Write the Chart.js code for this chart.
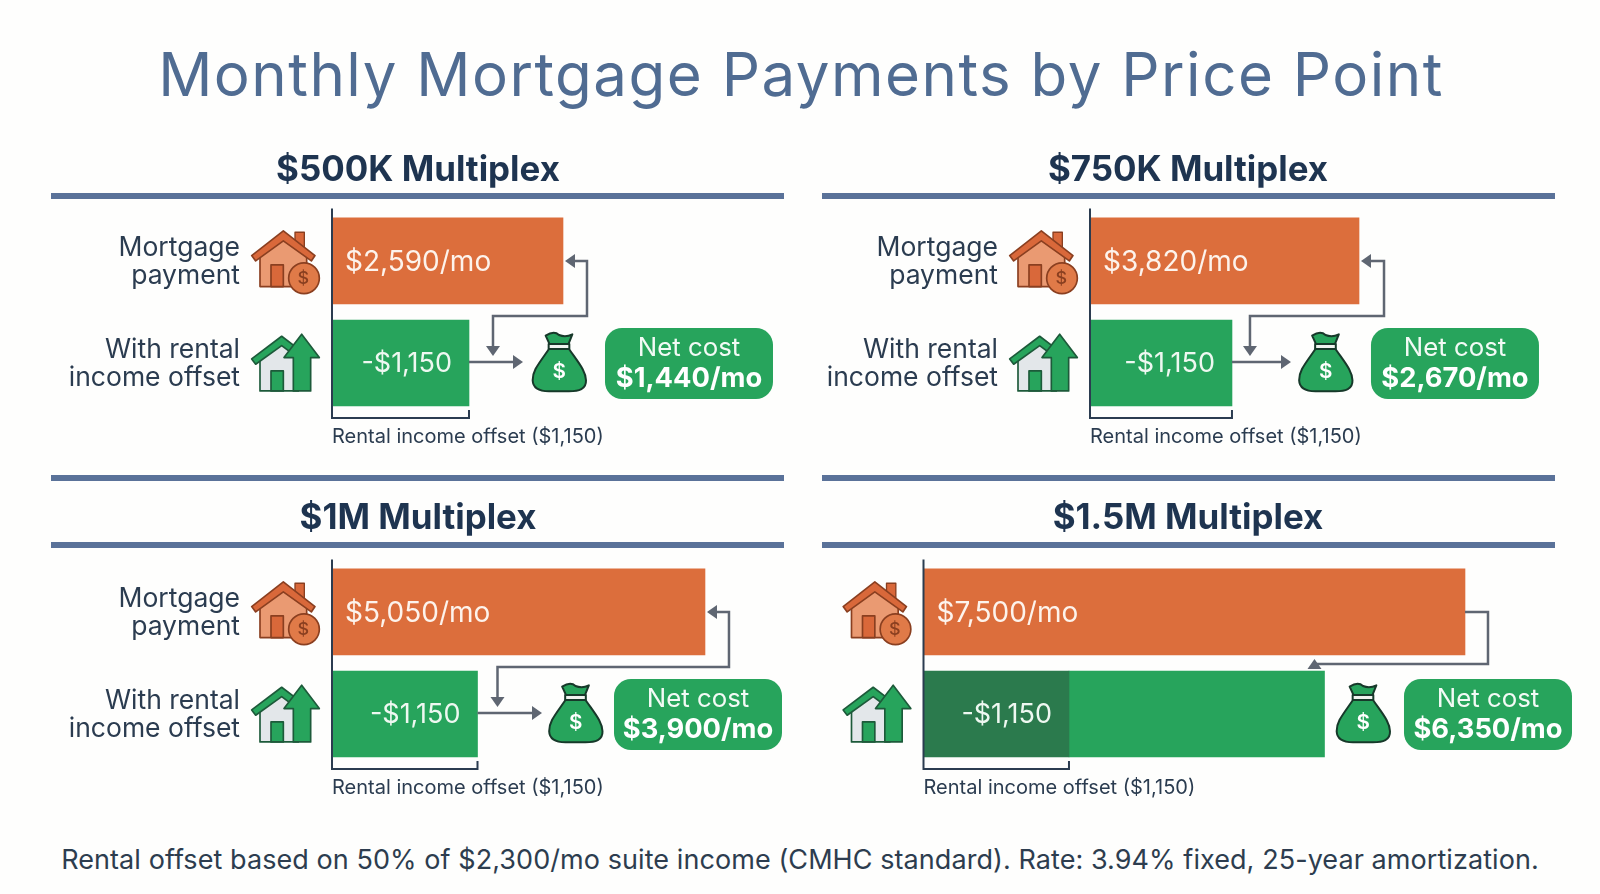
<!DOCTYPE html>
<html>
<head>
<meta charset="utf-8">
<title>Monthly Mortgage Payments by Price Point</title>
<script src="https://cdn.jsdelivr.net/npm/chart.js@4"></script>
<style>
    html, body { margin: 0; padding: 0; background: #fefefd; }
    body { position: relative; width: 1600px; height: 894px; overflow: hidden; font-family: Inter, sans-serif; }
    canvas { position: absolute; }
    #title { position: absolute; left: 0; width: 1602px; top: 36px; text-align: center; font-size: 60px; letter-spacing: 1.5px; line-height: 76px; color: #506c92; white-space: nowrap; }
    #note { position: absolute; left: 0; width: 1600px; top: 841px; text-align: center; font-size: 27px; letter-spacing: 0.07px; line-height: 38px; color: #2d3d4f; white-space: nowrap; }
    .rule { position: absolute; height: 6px; width: 733px; background: #5a7299; }
</style>
</head>
<body>
<div id="title">Monthly Mortgage Payments by Price Point</div>
<div class="rule" style="left:51px;top:193px"></div>
<div class="rule" style="left:822px;top:193px"></div>
<div class="rule" style="left:51px;top:475px"></div>
<div class="rule" style="left:822px;top:475px"></div>
<div class="rule" style="left:51px;top:542px"></div>
<div class="rule" style="left:822px;top:542px"></div>
<canvas id="panel0" width="836" height="304" style="left:0;top:150px"></canvas>
<canvas id="panel1" width="824" height="304" style="left:776px;top:150px"></canvas>
<canvas id="panel2" width="836" height="307" style="left:0;top:498px"></canvas>
<canvas id="panel3" width="824" height="307" style="left:776px;top:498px"></canvas>
<div id="note">Rental offset based on 50% of $2,300/mo suite income (CMHC standard). Rate: 3.94% fixed, 25-year amortization.</div>

<script>
const panelTitles = ['$500K Multiplex', '$750K Multiplex', '$1M Multiplex', '$1.5M Multiplex'];
const rowLabels = [['Mortgage', 'payment'], ['With rental', 'income offset']];
const mortgageValues = [2590, 3820, 5050, 7500];
const offsetValues = [1150, 1150, 1150, 1150];
const netCosts = [1440, 2670, 3900, 6350];
// the green bars in the picture are not to scale with their labels,
// so these are the lengths
const offsetBars = [1536, 2016, 1970, 2015];
const remainderBars = [null, null, null, 3539];
const axisMax = [5651, 7242, 6824, 9370];

const layouts = [
    { axisWidth: 332, titleGap: 18, corner: 24, drop: 24, arrow: 54, bag: 90, pill: 46 },
    { axisWidth: 314, titleGap: 18, corner: 25, drop: 18, arrow: 59, bag: 93.5, pill: 45.5 },
    { axisWidth: 332, titleGap: 21, corner: 24, drop: 20, arrow: 64.5, bag: 98, pill: 38.5 },
    { axisWidth: 147.5, titleGap: 21, corner: 23, drop: -10, arrow: 0, bag: 38.5, pill: 41, noLabels: true }
];

const ORANGE = '#dc6e3c';
const GREEN = '#27a45c';
const DARK_GREEN = '#2b7a4d';
const INK = '#2b3c50';
const ARROW = '#5f6672';
const FONT = 'Inter, sans-serif';

function money(v) {
    return '$' + v.toLocaleString('en-US');
}

function shape(ctx, pts, fill, stroke, width) {
    ctx.beginPath();
    pts.forEach((p, i) => i ? ctx.lineTo(p[0], p[1]) : ctx.moveTo(p[0], p[1]));
    ctx.closePath();
    ctx.fillStyle = fill;
    ctx.fill();
    ctx.strokeStyle = stroke;
    ctx.lineWidth = width;
    ctx.lineJoin = 'round';
    ctx.stroke();
}

// icons are sketched at 3x, with (0,0) at the top left of the icon box
function drawMortgageIcon(ctx, x, y) {
    const line = '#8a3f20';
    ctx.save();
    ctx.translate(x, y);
    ctx.scale(1 / 3, 1 / 3);
    shape(ctx, [[165, 52], [193, 52], [193, 100], [165, 80]], '#d9683a', line, 4);
    shape(ctx, [[60, 115], [130, 70], [200, 115], [200, 215], [60, 215]], '#ea9a72', line, 5);
    shape(ctx, [[93, 150], [130, 150], [130, 215], [93, 215]], '#d9683a', line, 5);
    shape(ctx, [[35, 122], [130, 48], [225, 122], [214, 138], [130, 78], [47, 138]], '#d9683a', line, 5);
    ctx.beginPath();
    ctx.arc(192, 190, 46, 0, Math.PI * 2);
    ctx.fillStyle = '#e07a48';
    ctx.fill();
    ctx.strokeStyle = line;
    ctx.lineWidth = 5;
    ctx.stroke();
    ctx.fillStyle = line;
    ctx.font = '500 54px ' + FONT;
    ctx.textAlign = 'center';
    ctx.textBaseline = 'middle';
    ctx.fillText('$', 190, 192);
    ctx.restore();
}

function drawOffsetIcon(ctx, x, y) {
    const line = '#1d5a3a';
    ctx.save();
    ctx.translate(x, y);
    ctx.scale(1 / 3, 1 / 3);
    shape(ctx, [[60, 430], [125, 385], [175, 420], [175, 528], [60, 528]], '#e3e7ea', line, 5);
    shape(ctx, [[93, 468], [130, 468], [130, 528], [93, 528]], GREEN, line, 5);
    shape(ctx, [[35, 432], [125, 364], [170, 398], [160, 418], [125, 392], [47, 448]], GREEN, line, 5);
    shape(ctx, [[185, 358], [238, 428], [212, 428], [212, 528], [160, 528], [160, 428], [132, 428]], GREEN, line, 5);
    ctx.restore();
}

function drawBag(ctx, x, y) {
    const line = '#17392a';
    ctx.save();
    ctx.translate(x, y);
    ctx.scale(1 / 3, 1 / 3);
    ctx.lineJoin = 'round';
    ctx.lineWidth = 6;
    ctx.strokeStyle = line;
    ctx.fillStyle = GREEN;
    ctx.beginPath();
    ctx.moveTo(-30, -36);
    ctx.bezierCurveTo(-62, 10, -80, 30, -79, 58);
    ctx.bezierCurveTo(-78, 85, -55, 91, -30, 91);
    ctx.lineTo(30, 91);
    ctx.bezierCurveTo(60, 91, 82, 85, 81, 58);
    ctx.bezierCurveTo(80, 30, 62, 10, 30, -36);
    ctx.closePath();
    ctx.fill();
    ctx.stroke();
    ctx.beginPath();
    ctx.moveTo(-28, -50);
    ctx.lineTo(-40, -76);
    ctx.quadraticCurveTo(-15, -92, 0, -78);
    ctx.quadraticCurveTo(20, -70, 40, -80);
    ctx.lineTo(28, -50);
    ctx.closePath();
    ctx.fill();
    ctx.stroke();
    ctx.fillStyle = '#f0f4f0';
    ctx.fillRect(-31, -51, 62, 15);
    ctx.strokeRect(-31, -51, 62, 15);
    ctx.fillStyle = '#ffffff';
    ctx.font = '600 62px ' + FONT;
    ctx.textAlign = 'center';
    ctx.textBaseline = 'middle';
    ctx.fillText('$', 1, 32);
    ctx.restore();
}

function arrowHead(ctx, x, y, dir) {
    const s = 10;
    const w = 7;
    ctx.beginPath();
    ctx.moveTo(x, y);
    if (dir === 'left') { ctx.lineTo(x + s, y - w); ctx.lineTo(x + s, y + w); }
    if (dir === 'right') { ctx.lineTo(x - s, y - w); ctx.lineTo(x - s, y + w); }
    if (dir === 'down') { ctx.lineTo(x - w, y - s); ctx.lineTo(x + w, y - s); }
    if (dir === 'up') { ctx.lineTo(x - w, y + s); ctx.lineTo(x + w, y + s); }
    ctx.closePath();
    ctx.fillStyle = ARROW;
    ctx.fill();
}

function path(ctx, pts) {
    ctx.beginPath();
    pts.forEach((p, i) => i ? ctx.lineTo(p[0], p[1]) : ctx.moveTo(p[0], p[1]));
    ctx.strokeStyle = ARROW;
    ctx.lineWidth = 2.5;
    ctx.lineJoin = 'miter';
    ctx.stroke();
}

const panelExtras = {
    id: 'panelExtras',
    afterDatasetsDraw(chart, args, opts) {
        const i = opts.index;
        const lay = layouts[i];
        const ctx = chart.ctx;
        const area = chart.chartArea;
        const top = chart.getDatasetMeta(0).data[0];
        const low = chart.getDatasetMeta(1).data[1];
        const rest = chart.getDatasetMeta(2).data[1];
        const row1 = top.y;
        const row2 = low.y;
        const greenEnd = remainderBars[i] ? rest.x : low.x;

        ctx.save();

        // axis line and the bracket under the offset bar
        ctx.strokeStyle = INK;
        ctx.lineWidth = 2;
        ctx.beginPath();
        ctx.moveTo(area.left, area.top - 1.5);
        ctx.lineTo(area.left, area.bottom + 4);
        ctx.lineTo(low.x, area.bottom + 4);
        ctx.lineTo(low.x, area.bottom - 4);
        ctx.stroke();

        drawMortgageIcon(ctx, area.left - 92, row1 - 46);
        drawOffsetIcon(ctx, area.left - 92, row1 - 46);

        // bar labels
        ctx.fillStyle = '#fdf3ec';
        ctx.font = '400 28px ' + FONT;
        ctx.textBaseline = 'middle';
        ctx.textAlign = 'left';
        ctx.fillText(money(mortgageValues[i]) + '/mo', area.left + 13, row1 + 2);
        ctx.textAlign = 'right';
        ctx.fillStyle = '#eef8f1';
        ctx.font = '400 27px ' + FONT;
        ctx.fillText('-' + money(offsetValues[i]), low.x - 17, row2 + 1);

        ctx.fillStyle = INK;
        ctx.font = '400 20px ' + FONT;
        ctx.textAlign = 'left';
        ctx.fillText('Rental income offset (' + money(offsetValues[i]) + ')', area.left, area.bottom + 23);

        // connectors
        if (lay.arrow) {
            path(ctx, [[top.x + 5, row1], [top.x + lay.corner, row1], [top.x + lay.corner, row1 + 55],
                [low.x + lay.drop, row1 + 55], [low.x + lay.drop, row2 - 12]]);
            arrowHead(ctx, top.x + 2, row1, 'left');
            arrowHead(ctx, low.x + lay.drop, row2 - 7, 'down');
            path(ctx, [[low.x, row2 - 1], [low.x + lay.arrow - 6, row2 - 1]]);
            arrowHead(ctx, low.x + lay.arrow, row2 - 1, 'right');
        } else {
            path(ctx, [[top.x, row1], [top.x + lay.corner, row1], [top.x + lay.corner, row1 + 52],
                [greenEnd + lay.drop, row1 + 52]]);
            arrowHead(ctx, greenEnd + lay.drop, row1 + 47, 'up');
        }

        // money bag and net cost pill
        const bagX = greenEnd + lay.bag;
        drawBag(ctx, bagX, row2 - 2);
        const pillX = bagX + lay.pill;
        ctx.beginPath();
        ctx.roundRect(pillX, row2 - 35, 168, 71, 17);
        ctx.fillStyle = GREEN;
        ctx.fill();
        ctx.fillStyle = '#f2faf5';
        ctx.textAlign = 'center';
        ctx.font = '400 25.8px ' + FONT;
        ctx.fillText('Net cost', pillX + 84, row2 - 15);
        ctx.fillStyle = '#ffffff';
        ctx.font = '700 27.3px ' + FONT;
        ctx.fillText(money(netCosts[i]) + '/mo', pillX + 84, row2 + 16);

        ctx.restore();
    }
};

function createPanel(i) {
    const lay = layouts[i];
    const ctx = document.getElementById('panel' + i).getContext('2d');
    new Chart(ctx, {
        type: 'bar',
        data: {
            labels: lay.noLabels ? ['', ''] : rowLabels,
            datasets: [
                { data: [mortgageValues[i], null], backgroundColor: ORANGE, barThickness: 86 },
                { data: [null, offsetBars[i]], backgroundColor: remainderBars[i] ? DARK_GREEN : GREEN, barThickness: 86 },
                { data: [null, remainderBars[i]], backgroundColor: GREEN, barThickness: 86 }
            ]
        },
        options: {
            indexAxis: 'y',
            responsive: false,
            animation: false,
            events: [],
            layout: { autoPadding: false, padding: { bottom: 40 } },
            scales: {
                x: { display: false, stacked: true, min: 0, max: axisMax[i] },
                y: {
                    stacked: true,
                    afterFit(scale) {
                        scale.width = lay.axisWidth;
                        // two line tick labels would otherwise squeeze the plot area
                        scale.paddingTop = 0;
                        scale.paddingBottom = 0;
                    },
                    grid: { display: false, drawTicks: false },
                    border: { display: false },
                    ticks: {
                        padding: 92,
                        autoSkip: false,
                        labelOffset: 1,
                        color: INK,
                        font: { family: FONT, size: 26.5, lineHeight: 1.08 }
                    }
                }
            },
            plugins: {
                legend: { display: false },
                tooltip: { enabled: false },
                title: {
                    display: true,
                    text: panelTitles[i],
                    color: '#1e3450',
                    font: { family: FONT, size: 34.9, weight: '700', lineHeight: 1.2 },
                    padding: { top: 0, bottom: lay.titleGap }
                },
                panelExtras: { index: i }
            }
        },
        plugins: [panelExtras]
    });
}

panelTitles.forEach((t, i) => createPanel(i));
</script>
</body>
</html>
